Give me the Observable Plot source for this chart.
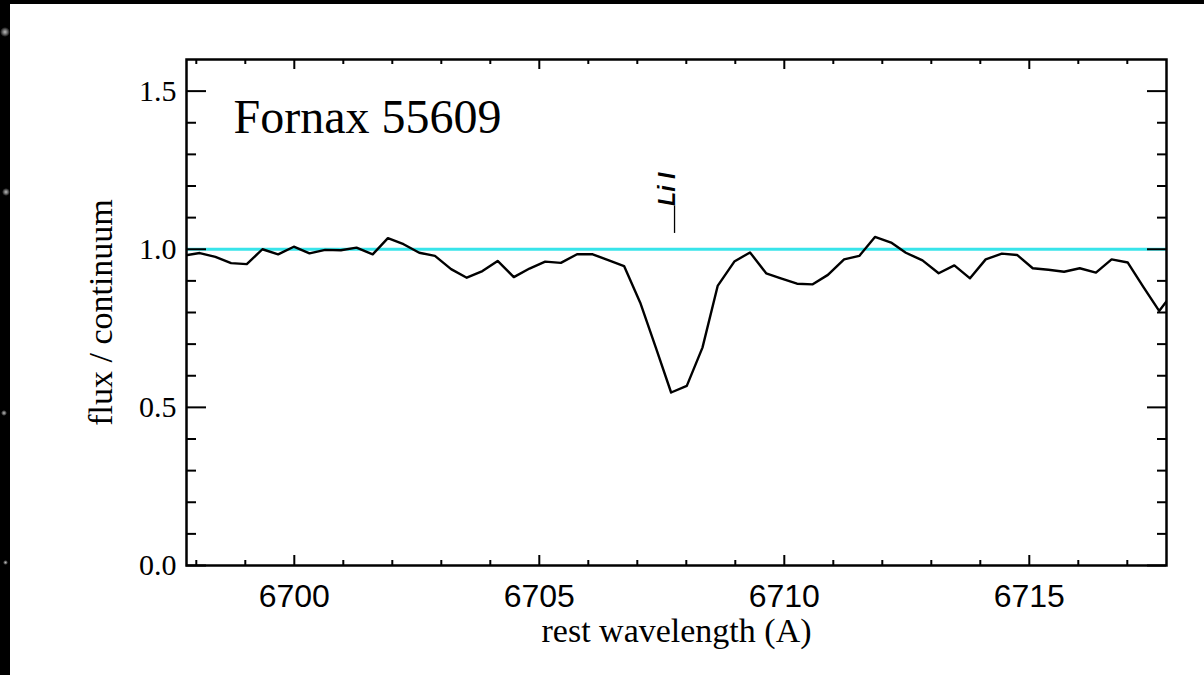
<!DOCTYPE html>
<html>
<head>
<meta charset="utf-8">
<script src="https://cdn.jsdelivr.net/npm/d3@7"></script>
<script src="https://cdn.jsdelivr.net/npm/@observablehq/plot@0.6"></script>
<style>
  html, body { margin: 0; padding: 0; background: #000; width: 1204px; height: 675px; overflow: hidden; position: relative; }
  #panel { position: absolute; left: 10px; top: 4px; width: 1194px; height: 671px; background: #fff; }
  .star { position: absolute; border-radius: 50%; background: radial-gradient(circle, #bbb 0, #666 35%, rgba(0,0,0,0) 70%); }
</style>
</head>
<body>
<div class="star" style="left:0px;top:27px;width:10px;height:10px"></div>
<div class="star" style="left:2px;top:188px;width:8px;height:8px"></div>
<div class="star" style="left:1px;top:410px;width:6px;height:6px"></div>
<div class="star" style="left:3px;top:560px;width:5px;height:5px"></div>
<div id="panel"></div>
<script>
// Normalised spectrum around the Li I 6708 Å resonance line
const wavelength = [
  6697.75, 6698.07, 6698.39, 6698.71, 6699.03, 6699.35, 6699.67, 6699.99,
  6700.31, 6700.63, 6700.95, 6701.27, 6701.60, 6701.91, 6702.23, 6702.55,
  6702.87, 6703.20, 6703.52, 6703.84, 6704.15, 6704.48, 6704.80, 6705.12,
  6705.44, 6705.77, 6706.09, 6706.42, 6706.73, 6707.06, 6707.38, 6707.69,
  6708.01, 6708.33, 6708.64, 6708.98, 6709.30, 6709.63, 6709.93, 6710.26,
  6710.58, 6710.89, 6711.22, 6711.53, 6711.85, 6712.18, 6712.48, 6712.82,
  6713.15, 6713.47, 6713.79, 6714.11, 6714.44, 6714.75, 6715.07, 6715.39,
  6715.71, 6716.03, 6716.36, 6716.68, 6717.01, 6717.33, 6717.65, 6717.97
];
const flux = [
  0.980, 0.988, 0.976, 0.956, 0.953, 1.000, 0.984, 1.008,
  0.987, 0.998, 0.997, 1.005, 0.984, 1.035, 1.016, 0.989,
  0.979, 0.937, 0.910, 0.931, 0.963, 0.912, 0.939, 0.961,
  0.957, 0.984, 0.984, 0.965, 0.947, 0.831, 0.688, 0.547,
  0.568, 0.689, 0.884, 0.961, 0.990, 0.924, 0.908, 0.891,
  0.889, 0.919, 0.968, 0.979, 1.039, 1.021, 0.989, 0.965,
  0.924, 0.949, 0.908, 0.968, 0.986, 0.982, 0.940, 0.935,
  0.929, 0.940, 0.926, 0.968, 0.958, 0.880, 0.805, 0.870
];
const continuumLevel = 1.0;
const lineWavelength = 6707.76;
const lineLabel = "Li I";
const markerBottom = 1.05;
const markerTop = 1.137;
const starName = "Fornax 55609";
const xTitle = "rest wavelength (A)";
const yTitle = "flux / continuum";
const xRange = [6697.8, 6717.8];
const yRange = [0, 1.6];
const xMajorTicks = [6700, 6705, 6710, 6715];
const xMinorTicks = [6698, 6699, 6701, 6702, 6703, 6704, 6706, 6707, 6708, 6709,
                     6711, 6712, 6713, 6714, 6716, 6717];
const yMajorTicks = [0.0, 0.5, 1.0, 1.5];
const yMinorTicks = [0.1, 0.2, 0.3, 0.4, 0.6, 0.7, 0.8, 0.9, 1.1, 1.2, 1.3, 1.4];

const W = 1194, H = 671;
const mL = 176, mR = 38, mT = 55, mB = 110;
const innerW = W - mL - mR;   // 980
const innerH = H - mT - mB;   // 506

const spectrum = wavelength.map((w, i) => ({w, f: flux[i]}));
const serif = "'Liberation Serif', 'Times New Roman', serif";
const sans = "'Liberation Sans', Arial, Helvetica, sans-serif";

const chart = Plot.plot({
  width: W,
  height: H,
  marginLeft: mL,
  marginRight: mR,
  marginTop: mT,
  marginBottom: mB,
  style: {background: "white", color: "black", overflow: "visible"},
  x: {domain: xRange, axis: null},
  y: {domain: yRange, axis: null},
  marks: [
    // continuum level
    Plot.ruleY([continuumLevel], {y: d => d, stroke: "#38e4ea", strokeWidth: 3}),
    // spectrum
    Plot.line(spectrum, {x: "w", y: "f", stroke: "black", strokeWidth: 2.4, clip: true}),
    // line identification
    Plot.ruleX([lineWavelength], {x: d => d, y1: () => markerBottom, y2: () => markerTop, stroke: "black", strokeWidth: 1.3}),
    Plot.text([lineWavelength], {
      x: d => d, y: () => markerTop, text: () => lineLabel,
      rotate: -90, textAnchor: "start", lineAnchor: "bottom",
      fontSize: 23, fontStyle: "italic", fontWeight: "bold", fontFamily: sans
    }),
    // inward ticks: bottom / top
    Plot.tickX(xMinorTicks, {x: d => d, insetTop: innerH - 5, strokeWidth: 2}),
    Plot.tickX(xMajorTicks, {x: d => d, insetTop: innerH - 10, strokeWidth: 2}),
    Plot.tickX(xMinorTicks, {x: d => d, insetBottom: innerH - 5, strokeWidth: 2}),
    Plot.tickX(xMajorTicks, {x: d => d, insetBottom: innerH - 10, strokeWidth: 2}),
    // inward ticks: left / right
    Plot.tickY(yMinorTicks, {y: d => d, insetRight: innerW - 10, strokeWidth: 2}),
    Plot.tickY(yMajorTicks, {y: d => d, insetRight: innerW - 20, strokeWidth: 2}),
    Plot.tickY(yMinorTicks, {y: d => d, insetLeft: innerW - 9, strokeWidth: 2}),
    Plot.tickY(yMajorTicks, {y: d => d, insetLeft: innerW - 19, strokeWidth: 2}),
    Plot.frame({stroke: "black", strokeWidth: 2.5}),
    // tick labels
    Plot.axisX({ticks: xMajorTicks, tickSize: 0, tickPadding: 19, tickFormat: d => String(d),
                fontSize: 32, fontFamily: sans, label: null}),
    Plot.axisY({ticks: yMajorTicks, tickSize: 0, tickPadding: 10, tickFormat: d => d.toFixed(1),
                fontSize: 30, fontFamily: serif, label: null}),
    // axis titles
    Plot.text([xTitle], {text: d => d, frameAnchor: "bottom", dy: 76, textAnchor: "middle", lineAnchor: "bottom",
                         fontSize: 34, fontFamily: serif}),
    Plot.text([yTitle], {text: d => d, frameAnchor: "left", dx: -75, rotate: -90, textAnchor: "middle", lineAnchor: "bottom",
                         fontSize: 34, fontFamily: serif}),
    // object name
    Plot.text([starName], {text: d => d, frameAnchor: "top-left", dx: 47, dy: 73,
                           textAnchor: "start", lineAnchor: "bottom", fontSize: 48, fontFamily: serif})
  ]
});

document.getElementById("panel").appendChild(chart);
</script>
</body>
</html>
